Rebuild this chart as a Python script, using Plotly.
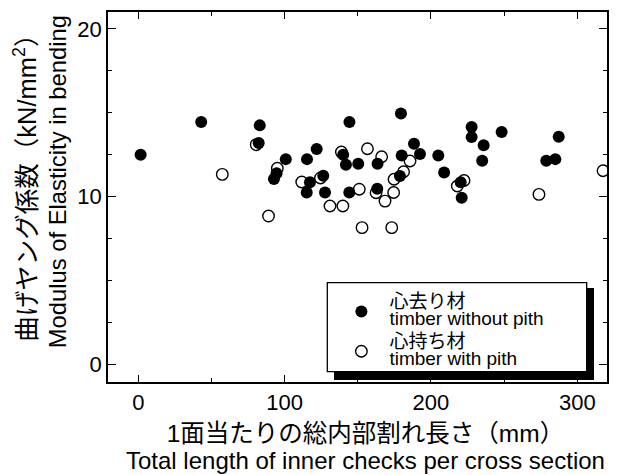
import plotly.graph_objects as go

# Data: timber without pith (filled circles)
without_x = [1.6, 43, 83, 82.3, 92.7, 94.5, 100.8, 115.3, 121.9, 117.3, 115.1, 126.4, 127.6,
             140, 141.9, 144.3, 144.2, 150.3, 163.5, 163.3, 179.5, 178.8, 180, 188.4, 192.5,
             205, 209, 220.3, 221, 227.8, 227.8, 236, 235, 248.3, 278.8, 285, 287.3]
without_y = [12.5, 14.45, 14.25, 13.2, 11.05, 11.4, 12.24, 12.24, 12.84, 10.86, 10.25, 11.25, 10.25,
             12.5, 11.9, 14.45, 10.25, 11.97, 11.97, 10.47, 14.96, 11.24, 12.46, 13.16, 12.54,
             12.46, 11.45, 10.86, 9.94, 14.15, 13.55, 13.06, 12.14, 13.85, 12.14, 12.24, 13.57]

# Data: timber with pith (open circles)
with_x = [57.4, 80.6, 89, 95, 111.7, 124.5, 131, 139.8, 138.8, 151, 152.9, 156.6, 162.5,
          166.3, 168.6, 173.2, 174.5, 174.8, 181.3, 185.7, 218, 222.6, 273.8, 317.6]
with_y = [11.33, 13.1, 8.85, 11.7, 10.88, 11.12, 9.45, 9.45, 12.66, 10.45, 8.16, 12.86, 10.24,
          12.38, 9.74, 8.16, 10.25, 11.04, 11.49, 12.13, 10.64, 10.97, 10.14, 11.55]

name_without = ["心去り材", "timber without pith"]
name_with = ["心持ち材", "timber with pith"]
x_title = ["1面当たりの総内部割れ長さ（mm）", "Total length of inner checks per cross section"]
y_title = ["曲げヤング係数（kN/mm<sup>2</sup>）", "Modulus of Elasticity in bending"]

FONT = "Liberation Sans, Arial, Noto Sans CJK JP, sans-serif"


def two_lines(lines, s1, s2):
    return (f"<span style='font-size:{s1}px'>{lines[0]}</span><br>"
            f"<span style='font-size:{s2}px'>{lines[1]}</span>")


fig = go.Figure()
fig.add_trace(go.Scatter(
    x=with_x, y=with_y, mode="markers",
    name=two_lines(name_with, 19, 19), legendgroup="with", legendrank=2,
    marker=dict(symbol="circle", size=11.5, color="white",
                line=dict(color="black", width=1.4)),
))
fig.add_trace(go.Scatter(
    x=without_x, y=without_y, mode="markers",
    name=two_lines(name_without, 19, 19), legendgroup="without", legendrank=1,
    marker=dict(symbol="circle", size=12, color="black",
                line=dict(color="black", width=0)),
))

axis_common = dict(
    showline=True, linecolor="black", linewidth=1.5, mirror="allticks",
    ticks="inside", tickcolor="black", tickwidth=1.3,
    showgrid=False, zeroline=False, automargin=False,
    tickfont=dict(family=FONT, size=22, color="black"),
)
fig.update_xaxes(range=[-20.7, 320.3], tick0=0, dtick=100, ticklen=7,
                 minor=dict(dtick=50, tick0=0, ticklen=4, ticks="inside",
                            tickcolor="black", tickwidth=1.3),
                 **axis_common)
fig.update_yaxes(range=[-1.03, 21.0], tick0=0, dtick=10, ticklen=8,
                 minor=dict(dtick=2.5, tick0=0, ticklen=4.5, ticks="inside",
                            tickcolor="black", tickwidth=1.3),
                 **axis_common)

# Legend box with drop shadow
fig.add_shape(type="rect", xref="paper", yref="paper",
              x0=0.4529, x1=0.974, y0=0.0054, y1=0.254,
              fillcolor="black", line=dict(width=0), layer="above")
fig.add_shape(type="rect", xref="paper", yref="paper",
              x0=0.4395, x1=0.9593, y0=0.0278, y1=0.2684,
              fillcolor="white", line=dict(color="black", width=1.3), layer="above")

fig.add_annotation(
    text=two_lines(x_title, 24.5, 24), xref="paper", yref="paper",
    x=0.517, y=-0.098, xanchor="center", yanchor="top", showarrow=False,
    font=dict(family=FONT, size=21, color="black"),
)
fig.add_annotation(
    text=two_lines(y_title, 25.5, 23.8), xref="paper", yref="paper",
    x=-0.136, y=0.54, xanchor="center", yanchor="middle", showarrow=False,
    textangle=-90, font=dict(family=FONT, size=23, color="black"),
)

# page body has an 8px margin: shrink the figure so the plot lands where it should
fig.update_layout(
    width=614, height=467,
    margin=dict(l=100, r=15, t=4, b=93, autoexpand=False),
    paper_bgcolor="white", plot_bgcolor="white",
    font=dict(family=FONT, color="black"),
    showlegend=True,
    legend=dict(x=0.4517, y=0.254, xanchor="left", yanchor="top",
                bgcolor="rgba(0,0,0,0)", borderwidth=0,
                traceorder="grouped", tracegroupgap=3, itemwidth=46,
                font=dict(family=FONT, size=13, color="black")),
)

fig.write_html("out.html")
